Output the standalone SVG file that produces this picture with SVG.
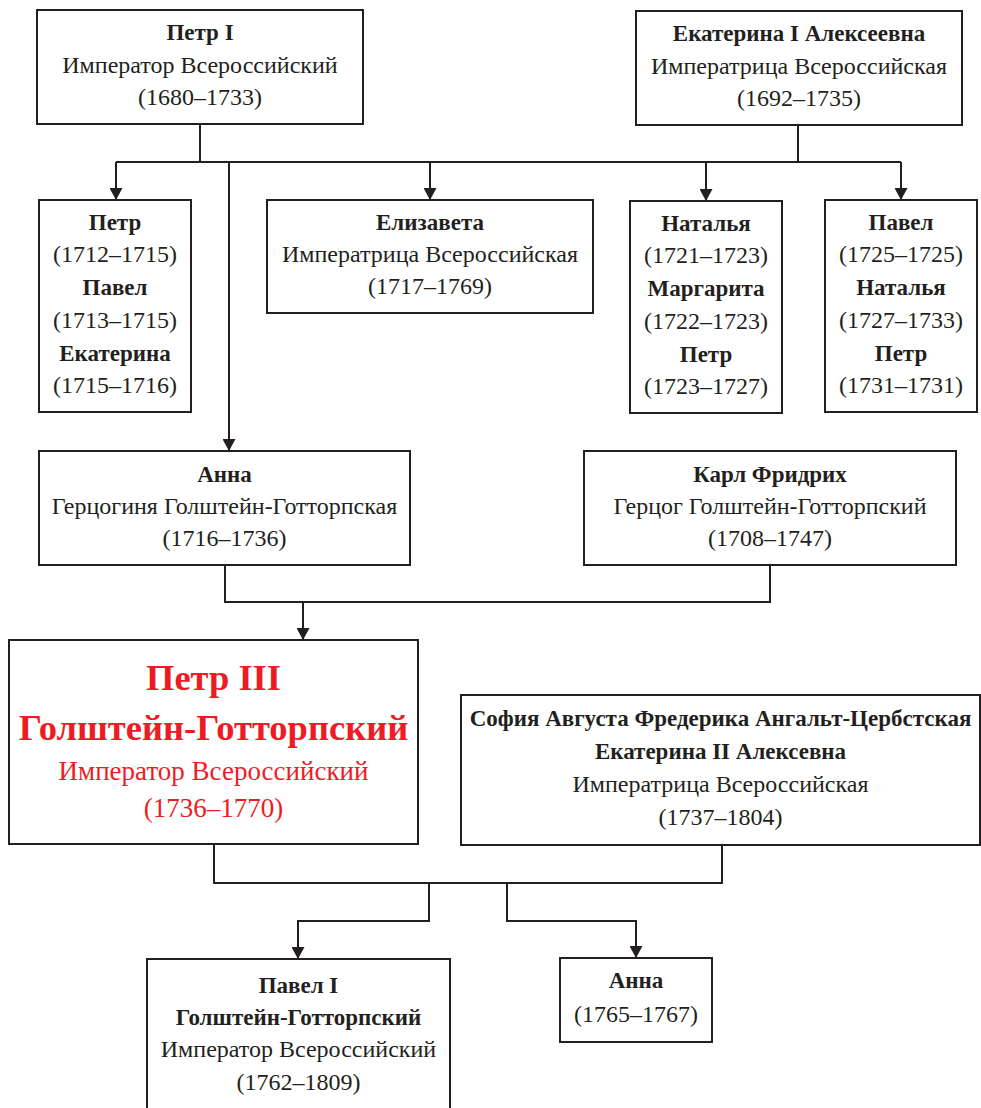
<svg xmlns="http://www.w3.org/2000/svg" width="981" height="1108" viewBox="0 0 981 1108">
<style>
.box{fill:#fff;stroke:#231f20;stroke-width:2}
.t{font-family:"Liberation Serif","Times New Roman",serif;font-size:24px;fill:#231f20;text-anchor:middle}
.b{font-weight:bold;font-size:23px}
.red{fill:#ed1c24}
.big{font-size:36.5px;font-weight:bold}
.mid{font-size:27px}
.c{fill:none;stroke:#231f20;stroke-width:2}
</style>
<defs>
<marker id="arr" viewBox="0 0 12 13" markerWidth="12" markerHeight="13" refX="12" refY="6.5" orient="auto" markerUnits="userSpaceOnUse">
<path d="M0,0 L12,6.5 L0,13 z" fill="#231f20"/>
</marker>
</defs>
<rect width="981" height="1108" fill="#fff"/>
<g id="connectors">
<path class="c" d="M200,124 V162"/>
<path class="c" d="M798,125 V162"/>
<path class="c" d="M116,162 H901"/>
<path class="c" d="M116,162 V200" marker-end="url(#arr)"/>
<path class="c" d="M430,162 V200" marker-end="url(#arr)"/>
<path class="c" d="M706,162 V201" marker-end="url(#arr)"/>
<path class="c" d="M901,162 V200" marker-end="url(#arr)"/>
<path class="c" d="M229,162 V451" marker-end="url(#arr)"/>
<path class="c" d="M225,565 V602 H770 V565"/>
<path class="c" d="M303,602 V640" marker-end="url(#arr)"/>
<path class="c" d="M214,844 V883 H722 V845"/>
<path class="c" d="M429,883 V921 H298 V959" marker-end="url(#arr)"/>
<path class="c" d="M507,883 V921 H636 V958" marker-end="url(#arr)"/>
</g>
<g id="petr1">
<rect class="box" x="37" y="10" width="326" height="114"/>
<text class="t b" x="200" y="40">Петр I</text>
<text class="t" x="200" y="73">Император Всероссийский</text>
<text class="t" x="200" y="105">(1680–1733)</text>
</g>
<g id="ekaterina1">
<rect class="box" x="636" y="11" width="326" height="114"/>
<text class="t b" x="799" y="41">Екатерина I Алексеевна</text>
<text class="t" x="799" y="74">Императрица Всероссийская</text>
<text class="t" x="799" y="106">(1692–1735)</text>
</g>
<g id="kids1">
<rect class="box" x="39" y="200" width="152" height="212"/>
<text class="t b" x="115" y="230">Петр</text>
<text class="t" x="115" y="262">(1712–1715)</text>
<text class="t b" x="115" y="295">Павел</text>
<text class="t" x="115" y="328">(1713–1715)</text>
<text class="t b" x="115" y="361">Екатерина</text>
<text class="t" x="115" y="393">(1715–1716)</text>
</g>
<g id="elizaveta">
<rect class="box" x="267" y="200" width="326" height="113"/>
<text class="t b" x="430" y="230">Елизавета</text>
<text class="t" x="430" y="262">Императрица Всероссийская</text>
<text class="t" x="430" y="294">(1717–1769)</text>
</g>
<g id="kids2">
<rect class="box" x="630" y="201" width="152" height="212"/>
<text class="t b" x="706" y="231">Наталья</text>
<text class="t" x="706" y="263">(1721–1723)</text>
<text class="t b" x="706" y="296">Маргарита</text>
<text class="t" x="706" y="329">(1722–1723)</text>
<text class="t b" x="706" y="362">Петр</text>
<text class="t" x="706" y="394">(1723–1727)</text>
</g>
<g id="kids3">
<rect class="box" x="825" y="200" width="152" height="212"/>
<text class="t b" x="901" y="230">Павел</text>
<text class="t" x="901" y="262">(1725–1725)</text>
<text class="t b" x="901" y="295">Наталья</text>
<text class="t" x="901" y="328">(1727–1733)</text>
<text class="t b" x="901" y="361">Петр</text>
<text class="t" x="901" y="393">(1731–1731)</text>
</g>
<g id="anna">
<rect class="box" x="39" y="451" width="371" height="114"/>
<text class="t b" x="224.5" y="482">Анна</text>
<text class="t" x="224.5" y="514">Герцогиня Голштейн-Готторпская</text>
<text class="t" x="224.5" y="546">(1716–1736)</text>
</g>
<g id="karl">
<rect class="box" x="584" y="451" width="372" height="114"/>
<text class="t b" x="770" y="482">Карл Фридрих</text>
<text class="t" x="770" y="514">Герцог Голштейн-Готторпский</text>
<text class="t" x="770" y="546">(1708–1747)</text>
</g>
<g id="petr3">
<rect class="box" x="9" y="640" width="409" height="204"/>
<text class="t big red" x="213.5" y="690">Петр III</text>
<text class="t big red" x="213.5" y="740">Голштейн-Готторпский</text>
<text class="t mid red" x="213.5" y="780">Император Всероссийский</text>
<text class="t mid red" x="213.5" y="817">(1736–1770)</text>
</g>
<g id="ekaterina2">
<rect class="box" x="461" y="695" width="519" height="150"/>
<text class="t b" x="720.5" y="726">София Августа Фредерика Ангальт-Цербстская</text>
<text class="t b" x="720.5" y="759">Екатерина II Алексевна</text>
<text class="t" x="720.5" y="792">Императрица Всероссийская</text>
<text class="t" x="720.5" y="825">(1737–1804)</text>
</g>
<g id="pavel1">
<rect class="box" x="147" y="959" width="303" height="200"/>
<text class="t b" x="298.5" y="993">Павел I</text>
<text class="t b" x="298.5" y="1025">Голштейн-Готторпский</text>
<text class="t" x="298.5" y="1057">Император Всероссийский</text>
<text class="t" x="298.5" y="1090">(1762–1809)</text>
</g>
<g id="anna2">
<rect class="box" x="560" y="958" width="152" height="84"/>
<text class="t b" x="636" y="988">Анна</text>
<text class="t" x="636" y="1022">(1765–1767)</text>
</g>
</svg>
